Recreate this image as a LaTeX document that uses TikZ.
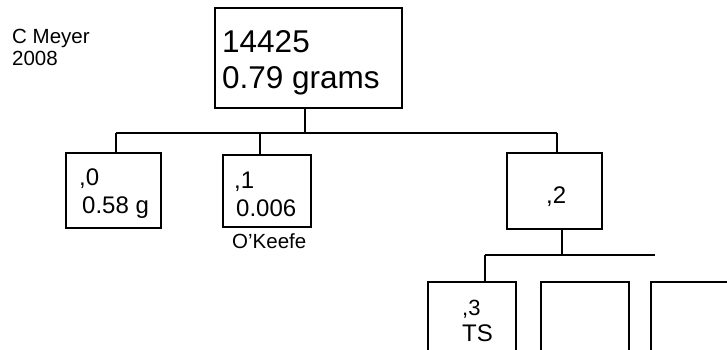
\documentclass[tikz,border=0pt]{standalone}
\usepackage{fontspec}
\setmainfont{Liberation Sans}
\begin{document}
\begin{tikzpicture}[x=1pt,y=-1pt,
  box/.style={draw=black,line width=1.2pt,inner sep=0pt,fill=none},
  conn/.style={draw=black,line width=1.2pt},
  txt/.style={anchor=base west,inner sep=0pt,text=black},
  bigf/.style={font=\fontsize{31.5}{35}\selectfont},
  midf/.style={font=\fontsize{24}{28}\selectfont},
  smlf/.style={font=\fontsize{20.5}{22}\selectfont}]
\useasboundingbox (0,0) rectangle (727,349);
\clip (0,0) rectangle (727,349);
% boxes
\node[box,minimum width=187pt,minimum height=100pt] (top) at (308.5,58) {};
\node[box,minimum width=95pt,minimum height=75pt] (b0) at (113.5,190.5) {};
\node[box,minimum width=88pt,minimum height=72pt] (b1) at (267,191) {};
\node[box,minimum width=95pt,minimum height=76pt] (b2) at (554.5,191) {};
\node[box,minimum width=88pt,minimum height=100pt] (b3) at (472,332) {};
\node[box,minimum width=88pt,minimum height=100pt] (b4) at (585,332) {};
\node[box,minimum width=100pt,minimum height=100pt] (b5) at (701,332) {};
% texts
\node[txt,smlf] (author) at (12,43) {C Meyer};
\node[txt,smlf] (year) at (12,65) {2008};
\node[txt,bigf] (t1) at (222,52) {14425};
\node[txt,bigf] (t2) at (222,88) {0.79 grams};
\node[txt,midf] (t0a) at (79,185) {,0};
\node[txt,midf] (t0b) at (82,213) {0.58 g};
\node[txt,midf] (t1a) at (234,188) {,1};
\node[txt,midf] (t1b) at (236,216) {0.006};
\node[txt,smlf] (okeefe) at (232,248) {O’Keefe};
\node[txt,midf] (t2a) at (546,203) {,2};
\node[txt,font=\fontsize{22}{28}\selectfont] (t3a) at (462,315) {,3};
\node[txt,font=\fontsize{24}{28}\selectfont] (t3b) at (462,341) {TS};
% connectors
\coordinate (s1) at (305,133);
\coordinate (busL) at (116,133);
\coordinate (busM) at (260,133);
\coordinate (busR) at (557,133);
\draw[conn] (s1 |- top.south) -- (s1);
\draw[conn] (busL) -- (busR);
\draw[conn] (busL) -- (busL |- b0.north);
\draw[conn] (busM) -- (busM |- b1.north);
\draw[conn] (busR) -- (busR |- b2.north);
\coordinate (s2) at (562,255);
\coordinate (bus2L) at (485,255);
\coordinate (bus2R) at (655,255);
\draw[conn] (s2 |- b2.south) -- (s2);
\draw[conn] (bus2L) -- (bus2R);
\draw[conn] (bus2L) -- (bus2L |- b3.north);
\end{tikzpicture}
\end{document}
